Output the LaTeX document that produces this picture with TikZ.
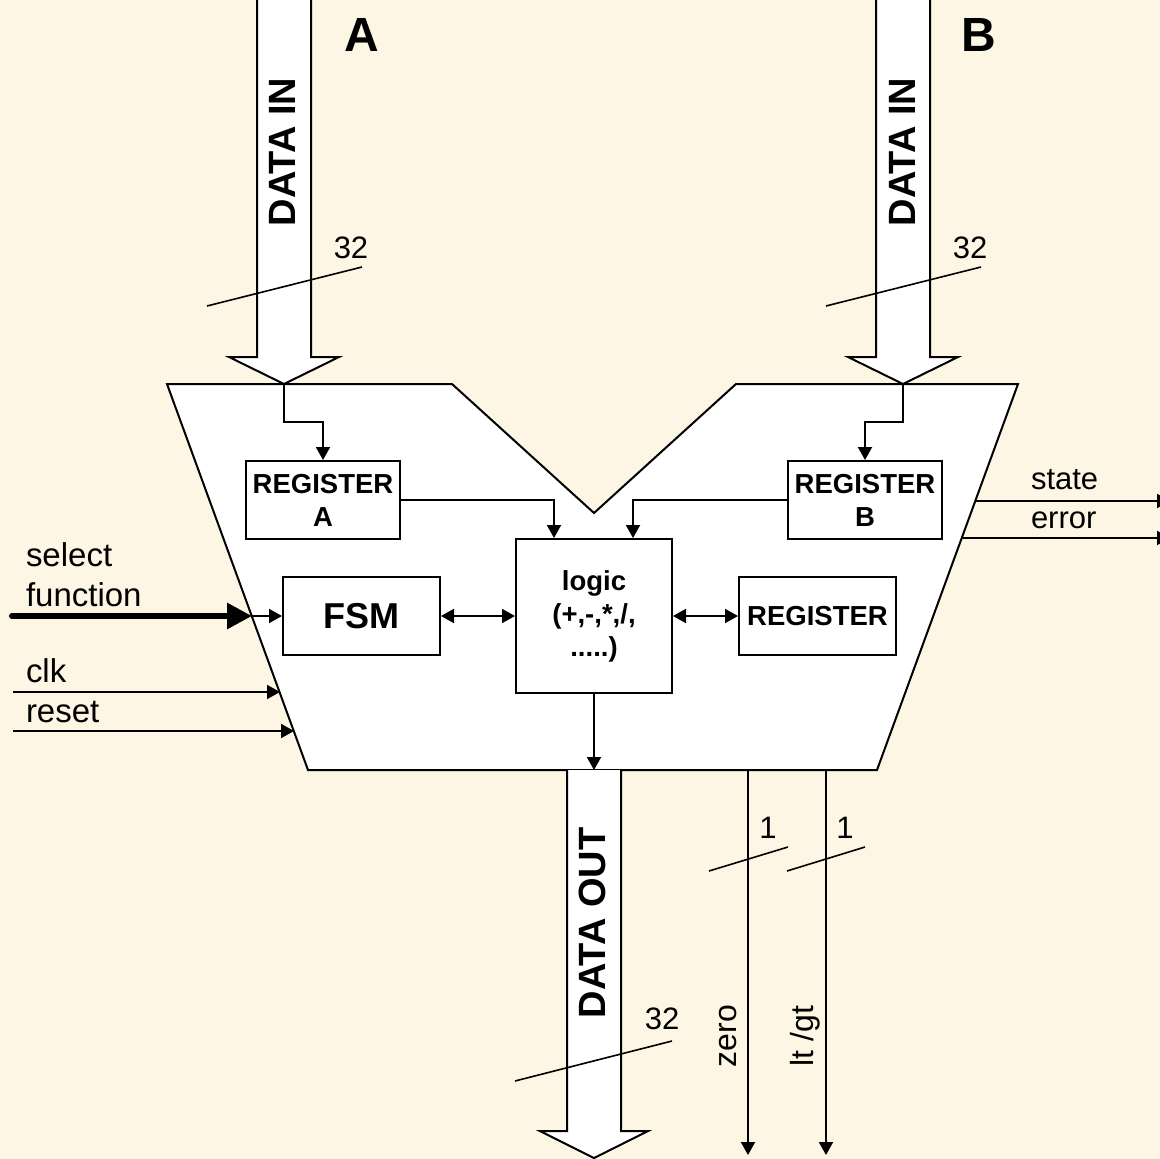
\documentclass[tikz,border=0pt]{standalone}
\usepackage{fontspec}
\setmainfont{Liberation Sans}
\usetikzlibrary{arrows.meta}
\definecolor{bgcream}{RGB}{253,246,228}
\begin{document}
\begin{tikzpicture}[x=1pt,y=-1pt,
  line width=2pt,
  tip/.style={-{Triangle[length=13pt,width=14pt]}},
  dtip/.style={{Triangle[length=13pt,width=14pt]}-{Triangle[length=13pt,width=14pt]}},
  blk/.style={draw,fill=white,line width=2pt,inner sep=0pt,align=center,font=\bfseries\fontsize{27.5}{33}\selectfont},
  lbl/.style={inner sep=0pt,font=\fontsize{31}{37}\selectfont},
  sidelbl/.style={inner sep=0pt,font=\fontsize{33}{38}\selectfont},
  bus/.style={draw,fill=white,line width=2pt,line join=miter},
  slash/.style={line width=1.6pt},
  big/.style={inner sep=0pt,font=\bfseries\fontsize{38}{44}\selectfont},
  huge/.style={inner sep=0pt,font=\bfseries\fontsize{48}{52}\selectfont}
]
\fill[bgcream] (0,0) rectangle (1160,1159);
\useasboundingbox (0,0) rectangle (1160,1159);
\clip (0,0) rectangle (1160,1159);

% main body
\draw[fill=white,line join=miter] (167,384) -- (452,384) -- (594,513) -- (736,384) -- (1018,384) -- (877,770) -- (308,770) -- cycle;

% fat bus arrows
\path[bus] (257,0) -- (257,357) -- (229,357) -- (284,384) -- (339,357) -- (311,357) -- (311,0);
\path[bus] (876,0) -- (876,357) -- (848,357) -- (903,384) -- (958,357) -- (930,357) -- (930,0);
\path[bus] (567,770) -- (567,1131) -- (540,1131) -- (594,1158) -- (648,1131) -- (621,1131) -- (621,770);

% bus width slashes
\draw[slash] (207,306) -- (362,267);
\draw[slash] (826,306) -- (981,267);
\draw[slash] (515,1081) -- (672,1041);
\draw[slash] (709,871) -- (788,847);
\draw[slash] (787,871) -- (865,847);

% blocks
\node[blk,minimum width=154pt,minimum height=78pt] (ra) at (323,500) {REGISTER\\A};
\node[blk,minimum width=154pt,minimum height=78pt] (rb) at (865,500) {REGISTER\\B};
\node[blk,minimum width=156pt,minimum height=154pt] (logic) at (594,616) {logic\\(+,-,*,/,\\.....)};
\node[blk,minimum width=157pt,minimum height=78pt,font=\bfseries\fontsize{36}{40}\selectfont] (fsm) at (361.5,616) {FSM};
\node[blk,minimum width=157pt,minimum height=78pt] (reg) at (817.5,616) {REGISTER};

% coordinates
\coordinate (tipA) at (284,384);
\coordinate (bendA) at (284,422);
\coordinate (tipB) at (903,384);
\coordinate (bendB) at (903,422);
\coordinate (outTop) at (594,770);
\coordinate (selS) at (12,616);
\coordinate (selE) at (252,616);
\coordinate (clkS) at (13,692);
\coordinate (clkE) at (280,692);
\coordinate (rstS) at (13,731);
\coordinate (rstE) at (294,731);
\coordinate (stS) at (975,501);
\coordinate (stE) at (1170,501);
\coordinate (erS) at (962,538);
\coordinate (erE) at (1170,538);
\coordinate (zS) at (748,770);
\coordinate (zE) at (748,1155);
\coordinate (lS) at (826,770);
\coordinate (lE) at (826,1155);

% connectors
\draw[tip] (tipA) -- (bendA) -| (ra.north);
\draw[tip] (tipB) -- (bendB) -| (rb.north);
\draw[tip] (ra.east) -| ([xshift=39pt]logic.north west);
\draw[tip] (rb.west) -| ([xshift=-40pt]logic.north east);
\draw[dtip] (fsm.east) -- (logic.west);
\draw[dtip] (logic.east) -- (reg.west);
\draw[tip] (logic.south) -- (outTop);
\draw[line width=6pt,line cap=round,-{Triangle[length=25pt,width=25pt]}] (selS) -- (selE);
\draw[tip] (selE) -- (fsm.west);
\draw[tip] (clkS) -- (clkE);
\draw[tip] (rstS) -- (rstE);
\draw[tip] (stS) -- (stE);
\draw[tip] (erS) -- (erE);
\draw[tip] (zS) -- (zE);
\draw[tip] (lS) -- (lE);

% texts
\node[huge,anchor=base] (labA) at (362,51) {A};
\node[huge,anchor=base] (labB) at (979,51) {B};
\node[big,rotate=90] (dinA) at (282,152) {DATA IN};
\node[big,rotate=90] (dinB) at (902,152) {DATA IN};
\node[big,rotate=90] (dout) at (592,923) {DATA OUT};
\node[lbl,anchor=base] (nA) at (351,258) {32};
\node[lbl,anchor=base] (nB) at (970,258) {32};
\node[lbl,anchor=base] (nO) at (662,1029) {32};
\node[lbl,anchor=base] (nZ) at (768,838) {1};
\node[lbl,anchor=base] (nL) at (845,838) {1};
\node[lbl,rotate=90,font=\fontsize{32}{37}\selectfont] (tz) at (728,1036) {zero};
\node[lbl,rotate=90,font=\fontsize{32}{37}\selectfont] (tl) at (805,1036) {lt /gt};
\node[sidelbl,anchor=base west] (tsel) at (25,566) {select};
\node[sidelbl,anchor=base west] (tfun) at (25,606) {function};
\node[sidelbl,anchor=base west] (tclk) at (25,682) {clk};
\node[sidelbl,anchor=base west] (trst) at (25,722) {reset};
\node[lbl,anchor=base west] (tst) at (1030,489) {state};
\node[lbl,anchor=base west] (ter) at (1030,528) {error};
\end{tikzpicture}
\end{document}
